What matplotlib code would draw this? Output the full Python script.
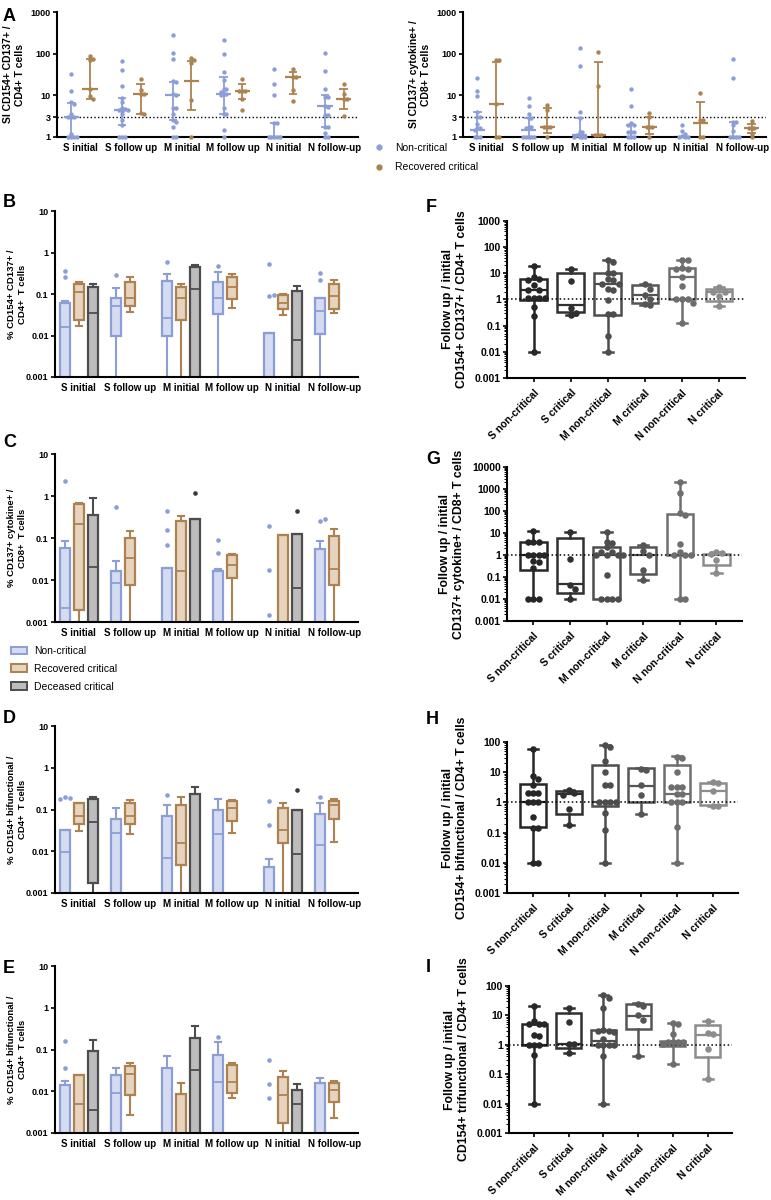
import matplotlib
matplotlib.use("Agg")
import matplotlib.pyplot as plt
import matplotlib.ticker as mticker
from matplotlib.patches import Patch
from matplotlib.lines import Line2D
import numpy as np

plt.rcParams["font.family"] = ["Liberation Sans", "DejaVu Sans"]
plt.rcParams["font.weight"] = "bold"
plt.rcParams["axes.labelweight"] = "bold"

# --------------------------------------
# data
# --------------------------------------

GROUPS = ["S initial", "S follow up", "M initial", "M follow up", "N initial", "N follow-up"]
CATS = ["S non-critical", "S critical", "M non-critical", "M critical", "N non-critical", "N critical"]

LOW = 1e-4  # below the axis range

# panel A, stimulation index, points + (median, q1, q3)
A4_non = [[33, 13, 7, 6.3, 3.6, 3, 3, 3, 1.2, 1, 1, 1, 1],
          [66, 40, 17, 8.6, 7, 5, 4.8, 4.4, 4.2, 4.4, 3.5, 2.5, 1.9, 1, 1, 1],
          [275, 104, 73, 22, 21, 11, 10, 5, 5, 3.6, 2.5, 2.3, 1.7, 1, 1],
          [218, 96, 36, 23, 14, 14, 12, 11, 11, 10, 5, 3.6, 3.6, 1.5, 1],
          [44, 19, 10, 2.2, 2.2, 1, 1, 1, 1, 1],
          [104, 39, 14, 9, 9, 5.7, 5.3, 3.3, 3.3, 1.7, 1.7, 1.25, 1, 1]]
A4_non_sum = [(3, 1, 6.7), (4.4, 1.9, 8.6), (10, 2.5, 21), (11, 3.5, 27), (1, 1, 2.2), (5.6, 1.7, 10)]
A4_rec = [[89, 75, 72, 14.5, 9.5, 8],
          [24, 13.5, 11, 11, 3.8, 3.6],
          [80, 70, 60, 7.6, 1],
          [24, 13, 13, 12.7, 8.3, 4.4],
          [44, 27, 27, 13.7, 7.3],
          [19, 11, 8, 8, 3.2]]
A4_rec_sum = [(14.5, 8, 76), (11, 3.5, 19), (22, 4.4, 65), (12.7, 8, 18.5), (28, 11, 36), (8, 4.8, 14.5)]

A8_non = [[26, 12.7, 9.5, 4, 3, 3, 2.1, 1.6, 1.6, 1.45, 1, 1, 1],
          [8.8, 5.5, 3.6, 2.9, 2.9, 1.7, 1.7, 1.6, 1, 1, 1, 1, 1],
          [140, 50, 4, 2.9, 1.3, 1.3, 1.1, 1, 1, 1, 1],
          [14, 5.7, 2.2, 1.9, 1.9, 1.35, 1.35, 1.35, 1, 1, 1],
          [1.9, 1.4, 1.2, 1.05, 1, 1, 1],
          [76, 26.5, 2.3, 2.3, 1.9, 1.4, 1, 1, 1, 1]]
A8_non_sum = [(1.45, 1, 4), (1.45, 1, 2.9), (1.1, 1, 2.9), (1, 1, 1.9), (1, 1, 1), (1, 1, 2.3)]
A8_rec = [[69, 69, 6.3, 1, 1],
          [6, 4.5, 1.7, 1.7, 1.7, 1],
          [107, 16.8, 1.14, 1.14, 1.1],
          [3.8, 3, 1.7, 1.7, 1.7, 1],
          [11.3, 2.5, 2.5, 1, 1],
          [2.4, 1.6, 1.6, 1.6, 1.2, 1]]
A8_rec_sum = [(6.1, 1, 63), (1.7, 1.25, 5), (1.14, 1, 62), (1.75, 1.2, 3.1), (2.2, 1, 7), (1.6, 1.25, 2)]

# panels B-E, % of cells: (q1, median, q3, whisker low, whisker high) + outliers
B_non = [(LOW, 0.016, 0.06, LOW, 0.068), (0.0095, 0.05, 0.08, LOW, 0.14), (0.0095, 0.027, 0.21, LOW, 0.3),
         (0.033, 0.08, 0.2, LOW, 0.34), (LOW, LOW, 0.0115, LOW, 0.0115), (0.011, 0.038, 0.082, LOW, 0.082)]
B_non_out = [[0.26, 0.36], [0.29], [0.6], [0.46], [0.52, 0.09, 0.095], [0.32, 0.22]]
B_rec = [(0.023, 0.11, 0.17, 0.017, 0.19), (0.05, 0.08, 0.2, 0.036, 0.25), (0.023, 0.08, 0.15, LOW, 0.17),
         (0.074, 0.15, 0.25, 0.047, 0.3), (0.044, 0.062, 0.095, 0.031, 0.1), (0.044, 0.092, 0.175, 0.034, 0.22)]
B_dec = [(LOW, 0.035, 0.15, LOW, 0.17), (LOW, 0.13, 0.45, LOW, 0.5), (LOW, 0.008, 0.12, LOW, 0.155)]
B_dec_out = [[], [], []]

C_non = [(LOW, 0.0022, 0.058, LOW, 0.083), (LOW, 0.0087, 0.016, LOW, 0.028), (LOW, LOW, 0.019, LOW, 0.019),
         (LOW, LOW, 0.016, LOW, 0.018), (LOW, LOW, LOW, LOW, LOW), (LOW, LOW, 0.054, LOW, 0.083)]
C_non_out = [[2.3], [0.56], [0.44, 0.155, 0.07], [0.09, 0.044], [0.19, 0.017, 0.0015], [0.25, 0.29]]
C_rec = [(0.0019, 0.21, 0.63, LOW, 0.7), (0.0076, 0.034, 0.1, LOW, 0.15), (LOW, 0.016, 0.26, LOW, 0.33),
         (0.011, 0.023, 0.04, LOW, 0.042), (LOW, LOW, 0.12, LOW, 0.12), (0.0076, 0.018, 0.11, LOW, 0.16)]
C_dec = [(LOW, 0.02, 0.35, LOW, 0.9), (LOW, LOW, 0.28, LOW, 0.28), (LOW, 0.0066, 0.125, LOW, 0.125)]
C_dec_out = [[], [1.15], [0.43]]

D_non = [(LOW, 0.0096, 0.032, LOW, 0.032), (LOW, 0.027, 0.058, LOW, 0.11), (LOW, 0.0069, 0.07, LOW, 0.13),
         (LOW, 0.026, 0.095, LOW, 0.18), (LOW, LOW, 0.0041, LOW, 0.0067), (LOW, 0.014, 0.078, LOW, 0.14)]
D_non_out = [[0.2, 0.19, 0.18], [], [0.22], [], [0.16, 0.042], [0.2]]
D_rec = [(0.045, 0.069, 0.14, 0.03, 0.145), (0.045, 0.069, 0.14, 0.026, 0.17), (0.0048, 0.016, 0.125, LOW, 0.2),
         (0.054, 0.11, 0.16, 0.028, 0.17), (0.016, 0.033, 0.11, LOW, 0.145), (0.06, 0.125, 0.16, 0.017, 0.18)]
D_dec = [(0.0017, 0.05, 0.18, LOW, 0.2), (LOW, LOW, 0.24, LOW, 0.34), (LOW, 0.0088, 0.095, LOW, 0.095)]
D_dec_out = [[], [], [0.29]]

E_non = [(LOW, LOW, 0.014, LOW, 0.018), (LOW, 0.0093, 0.025, LOW, 0.037), (LOW, LOW, 0.037, LOW, 0.068),
         (LOW, 0.017, 0.073, LOW, 0.15), (LOW, LOW, LOW, LOW, LOW), (LOW, LOW, 0.016, LOW, 0.021)]
E_non_out = [[0.16, 0.037], [], [], [0.2], [0.055, 0.015, 0.0068], []]
E_rec = [(LOW, 0.005, 0.024, LOW, 0.025), (0.008, 0.026, 0.04, 0.0027, 0.048), (LOW, LOW, 0.0088, LOW, 0.016),
         (0.0093, 0.017, 0.042, 0.007, 0.048), (0.0017, 0.0083, 0.022, LOW, 0.031), (0.0054, 0.0105, 0.016, 0.0023, 0.018)]
E_dec = [(LOW, 0.0035, 0.091, LOW, 0.17), (LOW, 0.032, 0.19, LOW, 0.36), (LOW, 0.0049, 0.0105, LOW, 0.015)]
E_dec_out = [[], [], []]

# panels F-I, follow up / initial: points + (q1, median, q3, min, max)
F_pts = [[19, 7.4, 6.2, 5.5, 3.5, 2.3, 2.3, 1.1, 1.1, 1.1, 1.1, 0.54, 0.24, 0.01],
         [15, 5, 0.46, 0.3, 0.26],
         [31, 28, 10.5, 10.5, 6, 5.5, 4, 4, 2.6, 2.3, 0.98, 0.28, 0.28, 0.04, 0.01],
         [4, 2.5, 1.5, 1.0, 0.7, 0.6],
         [33, 31, 16, 15, 15, 7.5, 3.3, 1.05, 1.0, 1.0, 0.75, 0.13],
         [2.9, 2, 2, 1.35, 0.56]]
F_box = [(0.96, 2.3, 6.2, 0.01, 19), (0.32, 0.6, 10, 0.26, 15), (0.25, 3.8, 10.5, 0.01, 31),
         (0.75, 1.5, 3.7, 0.6, 4), (1.05, 7, 16, 0.13, 33), (0.9, 2, 2.6, 0.56, 3)]

G_pts = [[12.7, 4.1, 4.1, 4.1, 1, 1, 1, 1, 0.55, 0.5, 0.25, 0.01, 0.01, 0.01],
         [11, 0.68, 0.045, 0.028, 0.01],
         [11, 4, 3.5, 2.2, 1.4, 1.4, 1, 1, 1, 1, 0.12, 0.01, 0.01, 0.01, 0.01],
         [2.8, 1.5, 1, 0.2, 0.07],
         [2000, 670, 78, 65, 3.2, 1.4, 1, 1, 1, 0.01, 0.01],
         [1.3, 1.2, 1.1, 0.62, 0.15]]
G_box = [(0.2, 1, 4.1, 0.01, 12.7), (0.019, 0.05, 6, 0.01, 11), (0.01, 1, 2.2, 0.01, 11),
         (0.14, 1, 2.2, 0.07, 2.8), (1, 1, 70, 0.01, 2000), (0.35, 1, 1.15, 0.15, 1.3)]

H_pts = [[60, 7.4, 6, 3.7, 2, 2, 2, 1, 1, 1, 0.32, 0.145, 0.14, 0.01, 0.01],
         [2.6, 2.1, 1.8, 0.6, 0.18],
         [80, 68, 24, 10, 3.7, 3.7, 1, 1, 1, 1, 0.45, 0.12, 0.01],
         [13, 11.5, 3.7, 1.7, 0.42],
         [33, 30, 10, 3.3, 3.3, 3.3, 1.9, 1.9, 1, 1, 1, 0.15, 0.01],
         [4.7, 4.5, 2.4, 0.78, 0.78]]
H_box = [(0.15, 1, 4.2, 0.01, 60), (0.4, 1.9, 2.4, 0.18, 2.6), (0.78, 1, 17, 0.01, 80),
         (1, 3.5, 14, 0.4, 14), (1, 1.9, 17, 0.01, 35), (0.85, 2.3, 4.4, 0.75, 4.7)]

I_pts = [[21, 6.5, 5.2, 5.2, 5.2, 2.1, 2, 1, 1, 1, 0.45, 0.01],
         [18, 6, 1.1, 1.1, 0.53],
         [48, 40, 18, 3.2, 3, 3, 2.8, 1.6, 1, 1, 1, 1, 0.4, 0.01],
         [25, 21, 10, 6.8, 0.4],
         [5.5, 5.2, 2.4, 1.2, 1.2, 1.2, 1.2, 1.1, 0.22],
         [6.4, 2.6, 2.3, 0.7, 0.07]]
I_box = [(1, 1, 5.3, 0.01, 21), (0.75, 1.1, 12.5, 0.53, 18), (1, 1.4, 3.1, 0.01, 50),
         (3.5, 9.5, 23.5, 0.4, 26), (0.9, 1.1, 1.4, 0.22, 5.5), (0.37, 2.2, 4.6, 0.07, 6.4)]

# --------------------------------------

BLUE, BLUE_FILL = "#8c9ed8", "#d5dcf1"
TAN, TAN_FILL = "#ad8150", "#e6d4bf"
GRAY, GRAY_FILL, GRAY_DOT = "#4d4d4d", "#bdbdbd", "#3a3a3a"
RATIO_COLORS = ["#262626", "#303030", "#4d4d4d", "#555555", "#6e6e6e", "#8c8c8c"]

W, H = 771, 1200
fig = plt.figure(figsize=(W / 100, H / 100), dpi=100)


def px_axes(x0, y0, x1, y1):
    return fig.add_axes([x0 / W, 1 - y1 / H, (x1 - x0) / W, (y1 - y0) / H])


def swarm(vals, step, ydiam):
    """Simple beeswarm offsets (in x data units) for log-scaled values."""
    placed, out = [], []
    for v in vals:
        y = np.log10(v) / ydiam
        for k in [0, 1, -1, 2, -2, 3, -3, 4, -4, 5, -5, 6, -6]:
            if all((k - a) ** 2 + (y - b) ** 2 >= 0.7 for a, b in placed):
                break
        placed.append((k, y))
        out.append(k * step)
    return np.array(out)


def style_axes(ax, ticks, lo, hi, minor=False, labelsize=6.5):
    for s in ["top", "right"]:
        ax.spines[s].set_visible(False)
    ax.spines["left"].set_linewidth(1.5)
    ax.spines["bottom"].set_linewidth(1.5)
    ax.set_yscale("log")
    ax.set_ylim(lo, hi)
    ax.yaxis.set_major_locator(mticker.FixedLocator(ticks))
    ax.yaxis.set_major_formatter(mticker.FuncFormatter(lambda v, _: f"{v:g}"))
    if minor:
        ax.yaxis.set_minor_locator(mticker.LogLocator(base=10, subs=np.arange(2, 10), numticks=20))
        ax.tick_params(axis="y", which="minor", length=2, width=0.7)
    else:
        ax.yaxis.set_minor_locator(mticker.NullLocator())
    ax.yaxis.set_minor_formatter(mticker.NullFormatter())
    ax.tick_params(axis="y", which="major", length=3, width=1.2, labelsize=labelsize, pad=1.5)


def label(x, y, s):
    fig.text(x / W, 1 - y / H, s, fontsize=13, fontweight="bold", va="top", ha="left")


# --------------------------------------
# panel A
# --------------------------------------

def panel_a(ax, non, non_sum, rec, rec_sum, ylabel):
    centers = 1.4 + 3 * np.arange(6)
    ax.axhline(3, color="black", ls=":", lw=1.0, zorder=1)
    for i in range(6):
        for pts, summ, col, off in [(non[i], non_sum[i], BLUE, -0.55), (rec[i], rec_sum[i], TAN, 0.55)]:
            x = centers[i] + off
            vals = np.array(pts, dtype=float)
            ax.scatter(x + swarm(vals, 0.17, 0.09), vals, s=10, color=col, lw=0, zorder=3, clip_on=False)
            med, lo, hi = summ
            ax.vlines(x, lo, hi, color=col, lw=1.3, zorder=2)
            ax.hlines([lo, hi], x - 0.25, x + 0.25, color=col, lw=1.3, zorder=2)
            ax.hlines(med, x - 0.45, x + 0.45, color=col, lw=1.6, zorder=2)
    style_axes(ax, [1, 3, 10, 100, 1000], 1, 1000)
    ax.set_xlim(0, 17.8)
    ax.set_xticks(centers)
    ax.set_xticklabels(GROUPS, fontsize=7.0)
    ax.tick_params(axis="x", length=0, pad=4)
    ax.set_ylabel(ylabel, fontsize=7.5, labelpad=4)


panel_a(px_axes(57, 12, 358, 137), A4_non, A4_non_sum, A4_rec, A4_rec_sum, "SI CD154+ CD137+ /\nCD4+ T cells")
panel_a(px_axes(463, 12, 766, 137), A8_non, A8_non_sum, A8_rec, A8_rec_sum, "SI CD137+ cytokine+ /\nCD8+ T cells")

fig.legend(handles=[Line2D([], [], marker="o", ls="", color=BLUE, ms=3.5),
                    Line2D([], [], marker="o", ls="", color=TAN, ms=3.5)],
           labels=["Non-critical", "Recovered critical"], loc="upper left",
           bbox_to_anchor=(374 / W, 1 - 143 / H), frameon=False, prop=dict(size=7.5, weight="normal"),
           handlelength=1.0, handletextpad=1.0, labelspacing=0.9, borderpad=0, borderaxespad=0)

# --------------------------------------
# panels B-E
# --------------------------------------

def draw_box(ax, x, st, outl, ec, fc, dot):
    q1, med, q3, lo, hi = st
    stats = [dict(q1=q1, med=med, q3=q3, whislo=lo, whishi=hi, fliers=[])]
    ax.bxp(stats, positions=[x], widths=0.62, patch_artist=True, manage_ticks=False, showfliers=False,
           capwidths=[0.32],
           boxprops=dict(facecolor=fc, edgecolor=ec, linewidth=1.6),
           medianprops=dict(color=ec, linewidth=1.3),
           whiskerprops=dict(color=ec, linewidth=1.5),
           capprops=dict(color=ec, linewidth=1.5))
    if outl:
        vals = np.array(outl, dtype=float)
        ax.scatter(x + swarm(vals, 0.28, 0.1), vals, s=11, color=dot, lw=0, zorder=4)


def panel_box(ax, non, non_out, rec, dec, dec_out, ylabel):
    centers = 1.4 + 3 * np.arange(6)
    for i in range(6):
        draw_box(ax, centers[i] - 0.82, non[i], non_out[i], BLUE, BLUE_FILL, BLUE)
        draw_box(ax, centers[i], rec[i], [], TAN, TAN_FILL, TAN)
    for j, i in enumerate([0, 2, 4]):
        draw_box(ax, centers[i] + 0.82, dec[j], dec_out[j], GRAY, GRAY_FILL, GRAY_DOT)
    style_axes(ax, [0.001, 0.01, 0.1, 1, 10], 0.001, 10)
    ax.set_xlim(0, 17.8)
    ax.set_xticks(centers)
    ax.set_xticklabels(GROUPS, fontsize=7.0)
    ax.tick_params(axis="x", length=0, pad=4)
    ax.set_ylabel(ylabel, fontsize=6.8)
    ax.yaxis.set_label_coords(-0.094, 0.5)


panel_box(px_axes(55, 211, 358, 377), B_non, B_non_out, B_rec, B_dec, B_dec_out, "% CD154+ CD137+ /\nCD4+  T cells")
panel_box(px_axes(55, 454, 358, 622), C_non, C_non_out, C_rec, C_dec, C_dec_out, "% CD137+ cytokine+ /\nCD8+  T cells")
panel_box(px_axes(55, 726, 358, 893), D_non, D_non_out, D_rec, D_dec, D_dec_out, "% CD154+ bifunctional /\nCD4+  T cells")
panel_box(px_axes(55, 966, 358, 1133), E_non, E_non_out, E_rec, E_dec, E_dec_out, "% CD154+ bifunctional /\nCD4+  T cells")

fig.legend(handles=[Patch(facecolor=BLUE_FILL, edgecolor=BLUE, lw=1.4),
                    Patch(facecolor=TAN_FILL, edgecolor=TAN, lw=1.4),
                    Patch(facecolor=GRAY_FILL, edgecolor=GRAY, lw=1.4)],
           labels=["Non-critical", "Recovered critical", "Deceased critical"], loc="upper left",
           bbox_to_anchor=(11 / W, 1 - 646 / H), frameon=False, prop=dict(size=7.5, weight="normal"),
           handlelength=1.5, handleheight=0.75, handletextpad=0.7, labelspacing=0.75, borderpad=0, borderaxespad=0)

# --------------------------------------
# panels F-I
# --------------------------------------

def panel_ratio(ax, pts, box, top, ylabel, height_px):
    decades = np.log10(top / 0.001)
    ydiam = 6.5 / (height_px / decades)
    ax.axhline(1, color="black", ls=":", lw=1.1, zorder=3)
    for i in range(6):
        c = RATIO_COLORS[i]
        q1, med, q3, lo, hi = box[i]
        stats = [dict(q1=q1, med=med, q3=q3, whislo=lo, whishi=hi, fliers=[])]
        ax.bxp(stats, positions=[i], widths=0.72, patch_artist=True, manage_ticks=False, showfliers=False,
               capwidths=[0.28],
               boxprops=dict(facecolor="white", edgecolor=c, linewidth=1.8),
               medianprops=dict(color=c, linewidth=1.6),
               whiskerprops=dict(color=c, linewidth=1.8),
               capprops=dict(color=c, linewidth=1.8))
        vals = np.array(pts[i], dtype=float)
        ax.scatter(i + swarm(vals, 0.15, ydiam), vals, s=22, color=c, lw=0, zorder=4)
    ticks = [10.0 ** k for k in range(-3, int(round(np.log10(top))) + 1)]
    style_axes(ax, ticks, 0.001, top, minor=True, labelsize=7.5)
    ax.set_xlim(-0.72, 5.7)
    ax.set_xticks(np.arange(6))
    ax.set_xticklabels(CATS, rotation=45, ha="right", rotation_mode="anchor", fontsize=7.5)
    ax.tick_params(axis="x", length=3, width=1.2, pad=4)
    ax.set_ylabel(ylabel, fontsize=8.8, labelpad=5)


panel_ratio(px_axes(507, 221, 745, 378), F_pts, F_box, 1000, "Follow up / initial\nCD154+ CD137+ / CD4+ T cells", 157)
panel_ratio(px_axes(507, 467, 742, 621), G_pts, G_box, 10000, "Follow up / initial\nCD137+ cytokine+ / CD8+ T cells", 154)
panel_ratio(px_axes(507, 742, 738, 893), H_pts, H_box, 100, "Follow up / initial\nCD154+ bifunctional / CD4+ T cells", 151)
panel_ratio(px_axes(509, 986, 732, 1133), I_pts, I_box, 100, "Follow up / initial\nCD154+ trifunctional / CD4+ T cells", 147)

# panel letters
label(3, 8, "A")
label(3, 194, "B")
label(3, 434, "C")
label(3, 710, "D")
label(3, 960, "E")
label(426, 199, "F")
label(426, 451, "G")
label(426, 711, "H")
label(426, 959, "I")

fig.savefig("out.png", dpi=100)
